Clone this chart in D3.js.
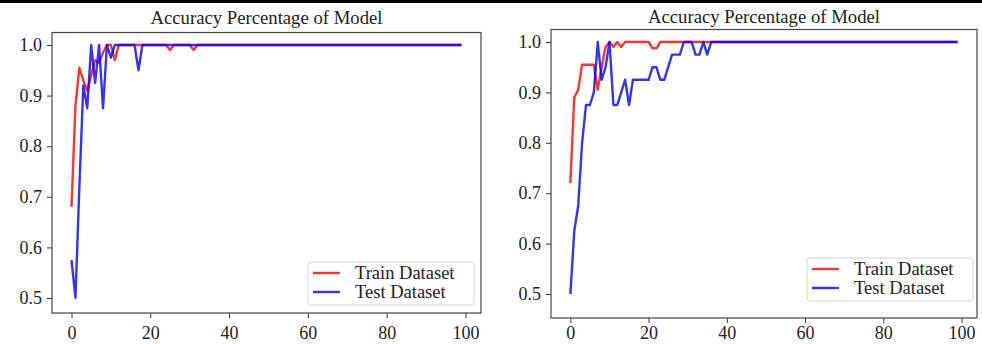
<!DOCTYPE html>
<html>
<head>
<meta charset="utf-8">
<script src="https://cdn.jsdelivr.net/npm/d3@7"></script>
<style>
body{margin:0;background:#fff;}
svg text{font-family:"Liberation Serif","Times New Roman",serif;fill:#222;}
</style>
</head>
<body>
<svg id="chart" width="982" height="344"></svg>
<script>
// values (one value per epoch, 0..99)
const titleText = "Accuracy Percentage of Model";
const seriesNames = ["Train Dataset", "Test Dataset"];
const xTicks = [0, 20, 40, 60, 80, 100];
const yTicks = [0.5, 0.6, 0.7, 0.8, 0.9, 1.0];

const leftTrain = [
    0.68, 0.88, 0.955, 0.93, 0.91, 0.94, 0.97, 0.965, 0.985, 1,
    1, 0.97, 1, 1, 1, 1, 1, 1, 1, 1,
    1, 1, 1, 1, 1, 0.99, 1, 1, 1, 1,
    1, 0.99, 1, 1, 1, 1, 1, 1, 1, 1,
    1, 1, 1, 1, 1, 1, 1, 1, 1, 1,
    1, 1, 1, 1, 1, 1, 1, 1, 1, 1,
    1, 1, 1, 1, 1, 1, 1, 1, 1, 1,
    1, 1, 1, 1, 1, 1, 1, 1, 1, 1,
    1, 1, 1, 1, 1, 1, 1, 1, 1, 1,
    1, 1, 1, 1, 1, 1, 1, 1, 1, 1
];
const leftTest = [
    0.575, 0.5, 0.72, 0.92, 0.875, 1, 0.925, 1, 0.875, 1,
    0.975, 1, 1, 1, 1, 1, 1, 0.95, 1, 1,
    1, 1, 1, 1, 1, 1, 1, 1, 1, 1,
    1, 1, 1, 1, 1, 1, 1, 1, 1, 1,
    1, 1, 1, 1, 1, 1, 1, 1, 1, 1,
    1, 1, 1, 1, 1, 1, 1, 1, 1, 1,
    1, 1, 1, 1, 1, 1, 1, 1, 1, 1,
    1, 1, 1, 1, 1, 1, 1, 1, 1, 1,
    1, 1, 1, 1, 1, 1, 1, 1, 1, 1,
    1, 1, 1, 1, 1, 1, 1, 1, 1, 1
];
const rightTrain = [
    0.72, 0.89, 0.905, 0.955, 0.955, 0.955, 0.955, 0.905, 0.95, 0.99,
    1, 0.99, 1, 0.99, 1, 1, 1, 1, 1, 1,
    1, 0.9875, 0.9875, 1, 1, 1, 1, 1, 1, 1,
    1, 1, 1, 1, 1, 1, 1, 1, 1, 1,
    1, 1, 1, 1, 1, 1, 1, 1, 1, 1,
    1, 1, 1, 1, 1, 1, 1, 1, 1, 1,
    1, 1, 1, 1, 1, 1, 1, 1, 1, 1,
    1, 1, 1, 1, 1, 1, 1, 1, 1, 1,
    1, 1, 1, 1, 1, 1, 1, 1, 1, 1,
    1, 1, 1, 1, 1, 1, 1, 1, 1, 1
];
const rightTest = [
    0.5, 0.625, 0.675, 0.8, 0.875, 0.875, 0.9, 1, 0.925, 0.95,
    1, 0.875, 0.875, 0.9, 0.925, 0.875, 0.925, 0.925, 0.925, 0.925,
    0.925, 0.95, 0.95, 0.925, 0.925, 0.95, 0.975, 0.975, 0.975, 1,
    1, 1, 0.975, 0.975, 1, 0.975, 1, 1, 1, 1,
    1, 1, 1, 1, 1, 1, 1, 1, 1, 1,
    1, 1, 1, 1, 1, 1, 1, 1, 1, 1,
    1, 1, 1, 1, 1, 1, 1, 1, 1, 1,
    1, 1, 1, 1, 1, 1, 1, 1, 1, 1,
    1, 1, 1, 1, 1, 1, 1, 1, 1, 1,
    1, 1, 1, 1, 1, 1, 1, 1, 1, 1
];

const colors = ["#ff0000", "#0000ff"];

// layout of the two panels (pixel boxes), kept apart from the data
// py1 / py05 : pixel rows of the 1.0 and 0.5 ticks
const panels = [
    {train: leftTrain, test: leftTest, x0: 52, x1: 481, y0: 32.5, y1: 313, py1: 45, py05: 298, xPad: 8, titleY: 24, legX: 308, legY: 262},
    {train: rightTrain, test: rightTest, x0: 551, x1: 977, y0: 29.5, y1: 318, py1: 42, py05: 294, xPad: 3.5, titleY: 23, legX: 807, legY: 258}
];

const svg = d3.select('#chart');

svg.append('rect')
    .attr('x', 0).attr('y', 0)
    .attr('width', 982).attr('height', 3)
    .attr('fill', '#000');

panels.forEach(p => {
    const g = svg.append('g').attr('class', 'panel');

    const x = d3.scaleLinear().domain([-4.95, 103.95]).range([p.x0, p.x1]);
    const y = d3.scaleLinear().domain([0.5, 1.0]).range([p.py05, p.py1]);

    const yAxis = g.append('g')
        .attr('transform', `translate(${p.x0},0)`)
        .call(d3.axisLeft(y).tickValues(yTicks).tickFormat(d3.format('.1f')).tickSize(5).tickPadding(5));
    const xAxis = g.append('g')
        .attr('transform', `translate(0,${p.y1})`)
        .call(d3.axisBottom(x).tickValues(xTicks).tickFormat(d3.format('d')).tickSize(5).tickPadding(p.xPad));
    [yAxis, xAxis].forEach(a => {
        a.select('.domain').remove();
        a.selectAll('.tick line').attr('stroke', '#333');
        a.selectAll('.tick text')
            .style('font-size', '18px')
            .style('font-family', '"Liberation Serif","Times New Roman",serif')
            .attr('fill', '#222');
    });

    const line = d3.line()
        .x((d, i) => x(i))
        .y(d => y(d));

    [p.train, p.test].forEach((s, k) => {
        g.append('path')
            .datum(s)
            .attr('d', line)
            .attr('fill', 'none')
            .attr('stroke', colors[k])
            .attr('stroke-opacity', 0.8)
            .attr('stroke-width', 2.4)
            .attr('stroke-linejoin', 'round');
    });

    g.append('rect')
        .attr('x', p.x0).attr('y', p.y0)
        .attr('width', p.x1 - p.x0).attr('height', p.y1 - p.y0)
        .attr('fill', 'none')
        .attr('stroke', '#444')
        .attr('stroke-width', 1.2);

    g.append('text')
        .attr('x', (p.x0 + p.x1) / 2)
        .attr('y', p.titleY)
        .attr('text-anchor', 'middle')
        .style('font-size', '18.7px')
        .text(titleText);

    const leg = g.append('g').attr('transform', `translate(${p.legX},${p.legY})`);
    leg.append('rect')
        .attr('width', 166).attr('height', 43)
        .attr('rx', 3)
        .attr('fill', '#fff')
        .attr('fill-opacity', 0.8)
        .attr('stroke', '#d4d4d4');
    seriesNames.forEach((name, k) => {
        leg.append('line')
            .attr('x1', 5).attr('x2', 32)
            .attr('y1', 11 + k * 19).attr('y2', 11 + k * 19)
            .attr('stroke', colors[k])
            .attr('stroke-opacity', 0.8)
            .attr('stroke-width', 2.4);
        leg.append('text')
            .attr('x', 47)
            .attr('y', 17 + k * 19)
            .style('font-size', '18.5px')
            .text(name);
    });
});
</script>
</body>
</html>
